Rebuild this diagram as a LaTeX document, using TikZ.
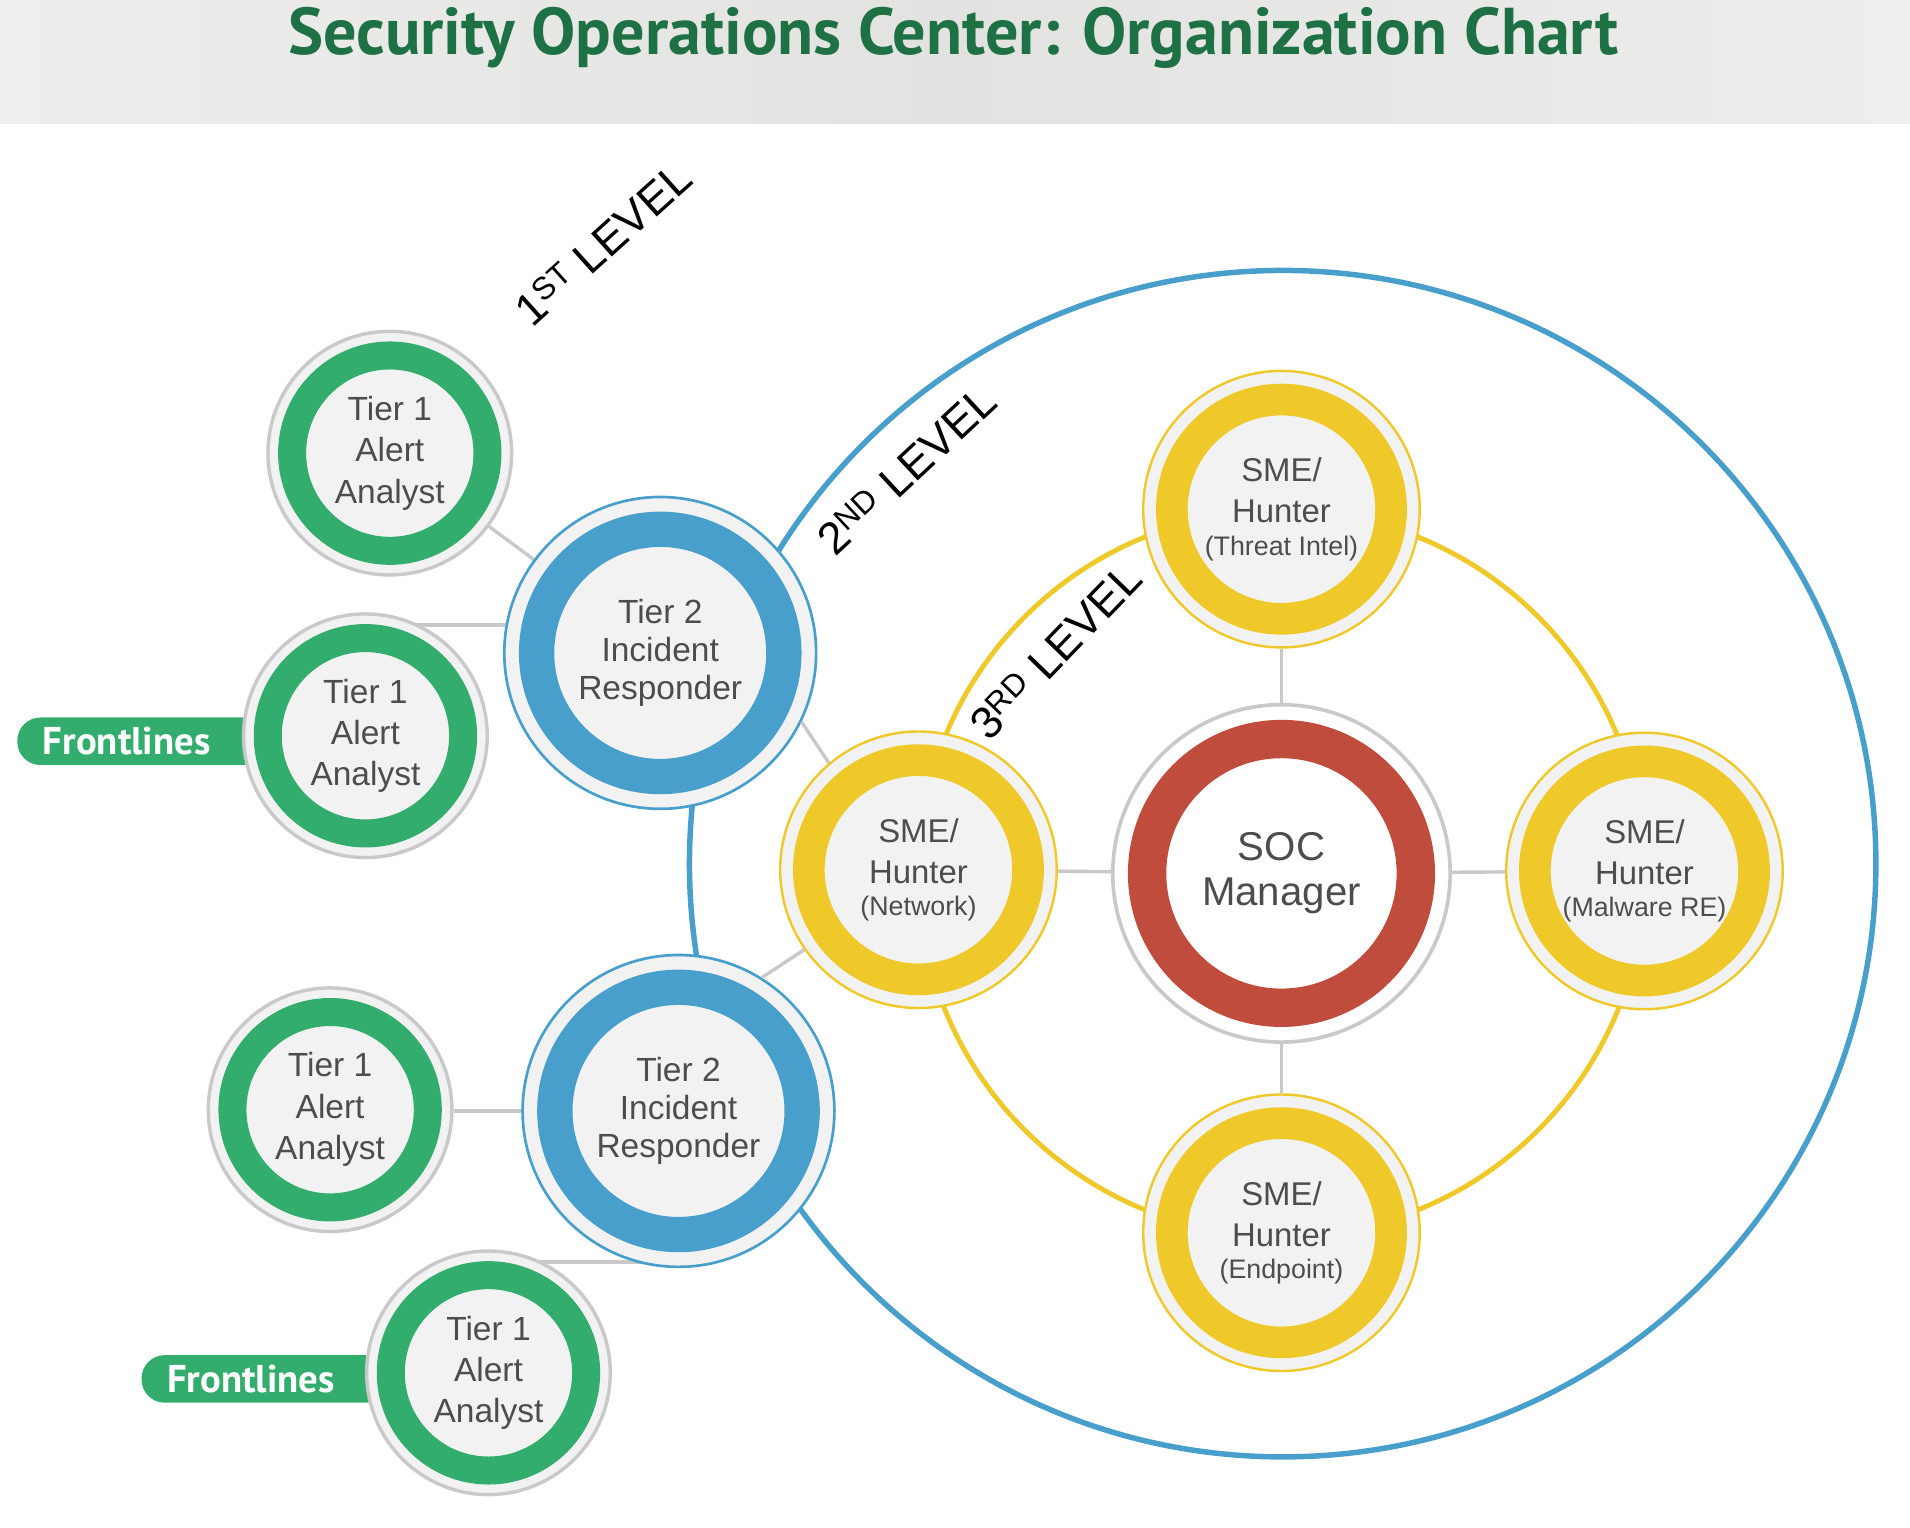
\documentclass[tikz,border=0pt]{standalone}
\usepackage{fontspec}
\setmainfont{Liberation Sans}
\newfontfamily\titlefont{PT Sans}
\usetikzlibrary{positioning,backgrounds}
\definecolor{socgreen}{HTML}{33AD6E}
\definecolor{socblue}{HTML}{489FCC}
\definecolor{socyellow}{HTML}{EFC92A}
\definecolor{socred}{HTML}{BF4C3D}
\definecolor{ringgray}{HTML}{C8C9C8}
\definecolor{nodefill}{HTML}{F2F2F2}
\definecolor{labelgray}{HTML}{4D4D4B}
\definecolor{titlegreen}{HTML}{1E7145}
\definecolor{bannerlight}{HTML}{EEEEEC}
\definecolor{bannerdark}{HTML}{E2E2E0}
\tikzset{
    person/.style = {circle, fill=nodefill, text=labelgray, align=center, inner sep=0pt},
    tier-one/.style = {person, draw=ringgray, line width=2.8pt, minimum size=200pt, font=\fontsize{27.5}{34}\selectfont,
        path picture={\draw[socgreen, line width=23pt] (path picture bounding box.center) circle (80.2pt);}},
    tier-two/.style = {person, draw=socblue, line width=2.2pt, minimum size=256pt, font=\fontsize{27.5}{31}\selectfont,
        path picture={\draw[socblue, line width=29pt] (path picture bounding box.center) circle (101.5pt);}},
    sme-node/.style = {person, draw=socyellow, line width=2pt, minimum size=227pt, font=\fontsize{27}{34}\selectfont,
        path picture={\draw[socyellow, line width=26pt] (path picture bounding box.center) circle (90pt);}},
    soc-node/.style = {person, fill=white, draw=ringgray, line width=3pt, minimum size=277pt, font=\fontsize{33}{37}\selectfont,
        path picture={\draw[socred, line width=31.5pt] (path picture bounding box.center) circle (110.3pt);}},
    link-line/.style = {draw=ringgray, line width=2.8pt},
    frontline-tag/.style = {fill=socgreen, text=white, font=\titlefont\bfseries\fontsize{31.8}{31.8}\selectfont,
        rounded corners=19pt, minimum height=39pt, inner xsep=21pt, text width=188pt, align=left},
    level-label/.style = {font=\fontsize{37}{37}\selectfont, text=black, inner sep=0pt, anchor=base west},
    title-text/.style = {font=\titlefont\bfseries\fontsize{54.3}{54.3}\selectfont, text=titlegreen, inner sep=0pt},
}
\newcommand{\smalltag}[1]{\\[-7.5pt]{\fontsize{22}{22}\selectfont #1}}
\begin{document}
\begin{tikzpicture}[x=1pt, y=-1pt]
\useasboundingbox (0,0) rectangle (1568,1254);
% banner
\shade[left color=bannerlight, right color=bannerlight, middle color=bannerdark] (0,0) rectangle (1568,101);
\node[title-text, anchor=base] (title) at (782.5,45) {Security Operations Center: Organization Chart};

% outer ring of the 2nd level
\draw[socblue, line width=4.5pt] (1053,709) circle (487pt);

% frontline tags sit under the tier 1 circles
\node[frontline-tag, anchor=west] (front-a) at (14,608.5) {Frontlines};
\node[frontline-tag, anchor=west] (front-b) at (116,1132) {Frontlines};

% 3rd level
\node[soc-node] (soc) at (1052,717) {SOC\\Manager};
\node[sme-node] (sme-threat) at (1052,418) {SME/\\Hunter\smalltag{(Threat Intel)}};
\node[sme-node] (sme-net) at (754,714) {SME/\\Hunter\smalltag{(Network)}};
\node[sme-node] (sme-mal) at (1350,715) {SME/\\Hunter\smalltag{(Malware RE)}};
\node[sme-node] (sme-end) at (1052,1012) {SME/\\Hunter\smalltag{(Endpoint)}};

% 2nd level
\node[tier-two] (t2-a) at (542,536) {Tier 2\\Incident\\Responder};
\node[tier-two] (t2-b) at (557,912) {Tier 2\\Incident\\Responder};

% 1st level
\node[tier-one] (t1-a) at (320,372) {Tier 1\\Alert\\Analyst};
\node[tier-one] (t1-b) at (300,604) {Tier 1\\Alert\\Analyst};
\node[tier-one] (t1-c) at (271,911) {Tier 1\\Alert\\Analyst};
\node[tier-one] (t1-d) at (401,1127) {Tier 1\\Alert\\Analyst};

% level captions
\node[level-label, rotate=42] (lvl-1) at (437,270) {1\textsuperscript{ST} LEVEL};
\node[level-label, rotate=43] (lvl-2) at (686,458) {2\textsuperscript{ND} LEVEL};
\node[level-label, rotate=46] (lvl-3) at (812,610) {3\textsuperscript{RD} LEVEL};

\begin{pgfonlayer}{background}
    \draw[socyellow, line width=4pt] (soc.center) circle (298pt);
    \draw[link-line] (soc) -- (sme-threat);
    \draw[link-line] (soc) -- (sme-net);
    \draw[link-line] (soc) -- (sme-mal);
    \draw[link-line] (soc) -- (sme-end);
    \draw[link-line] (t1-a) -- (t2-a);
    \draw[link-line] (t1-b.center) ++(0,-91) coordinate (t1-b-top) -- (t1-b-top -| t2-a);
    \draw[link-line] (t2-b.west) -- (t2-b.west -| t1-c.east);
    \draw[link-line] (t1-d.center) ++(0,-91) coordinate (t1-d-top) -- (t1-d-top -| t2-b);
\end{pgfonlayer}
\draw[link-line] (t2-a.-26) -- (sme-net.130);
\draw[link-line] (t2-b.58) -- (sme-net.215);
\end{tikzpicture}
\end{document}
